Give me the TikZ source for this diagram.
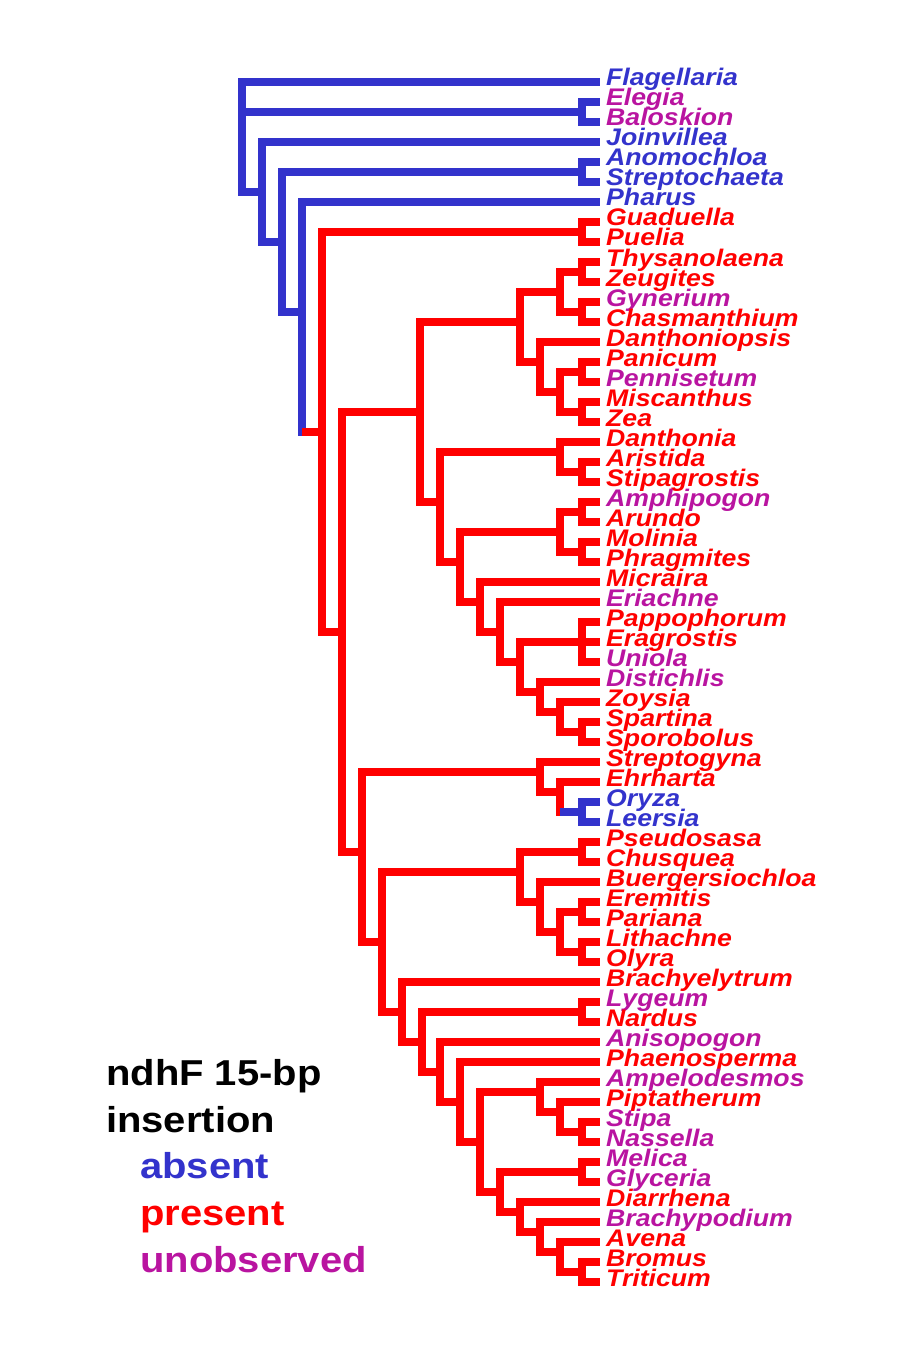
\documentclass[tikz,border=0pt]{standalone}
\usepackage{fontspec}
\newfontfamily\taxonfont[FakeStretch=1.11]{Liberation Sans}
\newfontfamily\keyfont[FakeStretch=1.11]{Liberation Sans}
\definecolor{absentblue}{RGB}{51,51,204}
\definecolor{presentred}{RGB}{255,0,0}
\definecolor{unobsmag}{RGB}{185,20,160}
\tikzset{
  branch/.style={line width=7.5pt, line join=miter},
  absent/.style={branch, draw=absentblue},
  present/.style={branch, draw=presentred},
  taxon/.style={anchor=west, inner xsep=6pt, inner ysep=0pt, text height=16pt, text depth=8pt,
    font=\taxonfont\bfseries\itshape\fontsize{24}{24}\selectfont},
  key/.style={anchor=base west, inner sep=0pt, font=\keyfont\bfseries\fontsize{36}{36}\selectfont}
}

\begin{document}
\begin{tikzpicture}[x=1pt, y=-1pt]
        \useasboundingbox (0,0) rectangle (898,1348);

        % taxa, one row every 20
        \foreach \name/\col [count=\i] in {
            Flagellaria/absentblue, Elegia/unobsmag, Baloskion/unobsmag, Joinvillea/absentblue,
            Anomochloa/absentblue, Streptochaeta/absentblue, Pharus/absentblue, Guaduella/presentred,
            Puelia/presentred, Thysanolaena/presentred, Zeugites/presentred, Gynerium/unobsmag,
            Chasmanthium/presentred, Danthoniopsis/presentred, Panicum/presentred, Pennisetum/unobsmag,
            Miscanthus/presentred, Zea/presentred, Danthonia/presentred, Aristida/presentred,
            Stipagrostis/presentred, Amphipogon/unobsmag, Arundo/presentred, Molinia/presentred,
            Phragmites/presentred, Micraira/presentred, Eriachne/unobsmag, Pappophorum/presentred,
            Eragrostis/presentred, Uniola/unobsmag, Distichlis/unobsmag, Zoysia/presentred,
            Spartina/presentred, Sporobolus/presentred, Streptogyna/presentred, Ehrharta/presentred,
            Oryza/absentblue, Leersia/absentblue, Pseudosasa/presentred, Chusquea/presentred,
            Buergersiochloa/presentred, Eremitis/presentred, Pariana/presentred, Lithachne/presentred,
            Olyra/presentred, Brachyelytrum/presentred, Lygeum/unobsmag, Nardus/presentred,
            Anisopogon/unobsmag, Phaenosperma/presentred, Ampelodesmos/unobsmag, Piptatherum/presentred,
            Stipa/unobsmag, Nassella/unobsmag, Melica/unobsmag, Glyceria/unobsmag,
            Diarrhena/presentred, Brachypodium/unobsmag, Avena/presentred, Bromus/presentred,
            Triticum/presentred} {
            \node[taxon, text=\col] (\name) at (600, {62+20*\i}) {\name};
        }

        % internal nodes (x = depth, y = where the parent branch joins)
        \coordinate (root) at (242,112);
        \coordinate (restio) at (582,112);
        \coordinate (n262) at (262,192);
        \coordinate (n282) at (282,242);
        \coordinate (anostr) at (582,172);
        \coordinate (n302) at (302,312);
        \coordinate (n322) at (322,432);
        \coordinate (guapue) at (582,232);
        \coordinate (n342) at (342,632);
        \coordinate (pacmad) at (420,412);
        \coordinate (n520a) at (520,322);
        \coordinate (n560a) at (560,292);
        \coordinate (thyzeu) at (582,272);
        \coordinate (gynch) at (582,312);
        \coordinate (n540a) at (540,362);
        \coordinate (n560b) at (560,392);
        \coordinate (panpen) at (582,372);
        \coordinate (miszea) at (582,412);
        \coordinate (n440) at (440,502);
        \coordinate (n560c) at (560,452);
        \coordinate (arisst) at (582,472);
        \coordinate (n460) at (460,562);
        \coordinate (n560d) at (560,532);
        \coordinate (amparu) at (582,512);
        \coordinate (molphr) at (582,552);
        \coordinate (n480) at (480,602);
        \coordinate (n500) at (500,632);
        \coordinate (n520b) at (520,662);
        \coordinate (pepaer) at (582,642);
        \coordinate (n540b) at (540,692);
        \coordinate (n560e) at (560,712);
        \coordinate (sposp) at (582,732);
        \coordinate (bep) at (362,852);
        \coordinate (ehrh) at (540,772);
        \coordinate (n560f) at (560,792);
        \coordinate (oryle) at (582,812);
        \coordinate (n382) at (382,942);
        \coordinate (bamb) at (520,872);
        \coordinate (psechu) at (582,852);
        \coordinate (n540d) at (540,902);
        \coordinate (n560g) at (560,932);
        \coordinate (erepar) at (582,912);
        \coordinate (litoly) at (582,952);
        \coordinate (n402) at (402,1012);
        \coordinate (n422) at (422,1042);
        \coordinate (lygnar) at (582,1012);
        \coordinate (n440b) at (440,1072);
        \coordinate (n460b) at (460,1102);
        \coordinate (n480b) at (480,1142);
        \coordinate (n540e) at (540,1092);
        \coordinate (n560h) at (560,1112);
        \coordinate (stinas) at (582,1132);
        \coordinate (n500b) at (500,1192);
        \coordinate (melgly) at (582,1172);
        \coordinate (n520d) at (520,1212);
        \coordinate (n540f) at (540,1232);
        \coordinate (n560i) at (560,1252);
        \coordinate (brotri) at (582,1272);

        % branches where the insertion is absent
        \foreach \a/\b in {root/Flagellaria.west, root/restio, root/n262,
            restio/Elegia.west, restio/Baloskion.west, n262/Joinvillea.west, n262/n282,
            n282/anostr, n282/n302, anostr/Anomochloa.west, anostr/Streptochaeta.west,
            n302/Pharus.west, n302/n322, oryle/Oryza.west, oryle/Leersia.west} {
            \draw[absent] (\a) |- (\b);
        }

        % branches where it is present
        \foreach \a/\b in {n322/guapue, n322/n342, guapue/Guaduella.west, guapue/Puelia.west,
            n342/pacmad, n342/bep, pacmad/n520a, pacmad/n440,
            n520a/n560a, n520a/n540a, n560a/thyzeu, n560a/gynch,
            thyzeu/Thysanolaena.west, thyzeu/Zeugites.west, gynch/Gynerium.west, gynch/Chasmanthium.west,
            n540a/Danthoniopsis.west, n540a/n560b, n560b/panpen, n560b/miszea,
            panpen/Panicum.west, panpen/Pennisetum.west, miszea/Miscanthus.west, miszea/Zea.west,
            n440/n560c, n440/n460, n560c/Danthonia.west, n560c/arisst,
            arisst/Aristida.west, arisst/Stipagrostis.west, n460/n560d, n460/n480,
            n560d/amparu, n560d/molphr, amparu/Amphipogon.west, amparu/Arundo.west,
            molphr/Molinia.west, molphr/Phragmites.west, n480/Micraira.west, n480/n500,
            n500/Eriachne.west, n500/n520b, n520b/pepaer, n520b/n540b,
            pepaer/Pappophorum.west, pepaer/Eragrostis.west, pepaer/Uniola.west,
            n540b/Distichlis.west, n540b/n560e, n560e/Zoysia.west, n560e/sposp,
            sposp/Spartina.west, sposp/Sporobolus.west,
            bep/ehrh, bep/n382, ehrh/Streptogyna.west, ehrh/n560f,
            n560f/Ehrharta.west, n560f/oryle,
            n382/bamb, n382/n402, bamb/psechu, bamb/n540d,
            psechu/Pseudosasa.west, psechu/Chusquea.west, n540d/Buergersiochloa.west, n540d/n560g,
            n560g/erepar, n560g/litoly, erepar/Eremitis.west, erepar/Pariana.west,
            litoly/Lithachne.west, litoly/Olyra.west,
            n402/Brachyelytrum.west, n402/n422, n422/lygnar, n422/n440b,
            lygnar/Lygeum.west, lygnar/Nardus.west, n440b/Anisopogon.west, n440b/n460b,
            n460b/Phaenosperma.west, n460b/n480b, n480b/n540e, n480b/n500b,
            n540e/Ampelodesmos.west, n540e/n560h, n560h/Piptatherum.west, n560h/stinas,
            stinas/Stipa.west, stinas/Nassella.west, n500b/melgly, n500b/n520d,
            melgly/Melica.west, melgly/Glyceria.west, n520d/Diarrhena.west, n520d/n540f,
            n540f/Brachypodium.west, n540f/n560i, n560i/Avena.west, n560i/brotri,
            brotri/Bromus.west, brotri/Triticum.west} {
            \draw[present] (\a) |- (\b);
        }

        % state changes along a branch
        \draw[present] (n302 |- n322) -- (n322);
        \draw[absent] (n560f |- oryle) -- (oryle);

        % key
        \node[key] (keyA) at (106,1085) {ndhF 15-bp};
        \node[key] (keyB) at (106,1132) {insertion};
        \node[key, text=absentblue] (keyC) at (140,1178) {absent};
        \node[key, text=presentred] (keyD) at (140,1225) {present};
        \node[key, text=unobsmag] (keyE) at (140,1272) {unobserved};

    \end{tikzpicture}
\end{document}
